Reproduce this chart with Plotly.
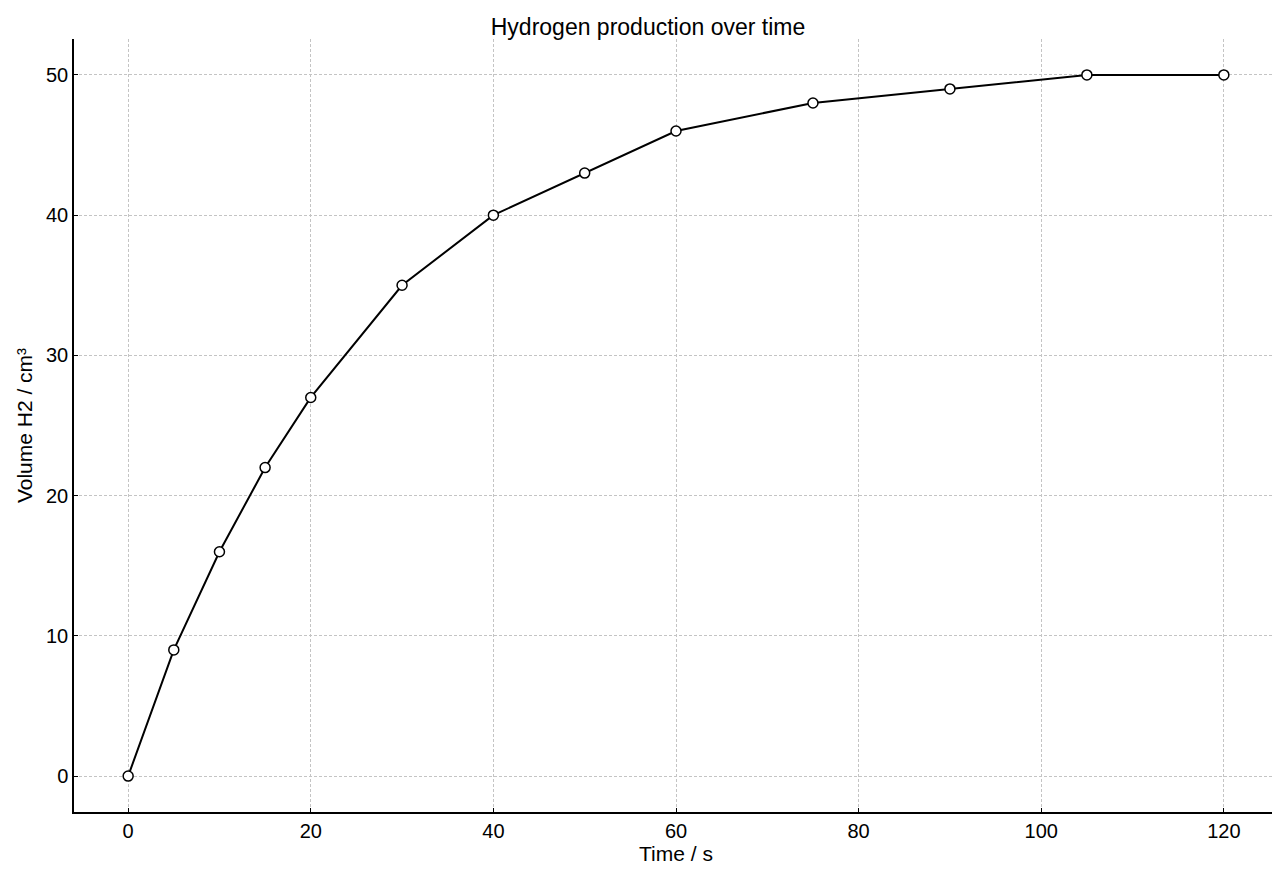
import plotly.graph_objects as go

time_s = [0, 5, 10, 15, 20, 30, 40, 50, 60, 75, 90, 105, 120]
volume_h2 = [0, 9, 16, 22, 27, 35, 40, 43, 46, 48, 49, 50, 50]

fig = go.Figure()
fig.add_trace(go.Scatter(
    x=time_s, y=volume_h2, mode="lines+markers",
    line=dict(color="black", width=2),
    marker=dict(size=10, color="white", line=dict(color="black", width=1.5)),
    showlegend=False,
))

axis_common = dict(
    showline=True, linecolor="black", linewidth=1.5, mirror=False,
    ticks="inside", ticklen=4, tickcolor="black",
    showgrid=True, gridcolor="#c4c4c4", griddash="3px,2px", gridwidth=1,
    zeroline=False, tickfont=dict(size=20, color="black"),
    title_font=dict(size=21, color="black"),
)

fig.update_layout(
    width=1280, height=880,
    margin=dict(l=66, r=10, t=31, b=76),
    paper_bgcolor="white", plot_bgcolor="white",
    font=dict(family="Liberation Sans, Arial, sans-serif", color="black"),
    title=dict(text="Hydrogen production over time", x=0.5, xanchor="center",
               y=0.978, yanchor="middle", font=dict(size=23, color="black")),
    xaxis=dict(range=[-5.93, 125.93], tickvals=[0, 20, 40, 60, 80, 100, 120],
               title=dict(text="Time / s", standoff=6), **axis_common),
    yaxis=dict(range=[-2.56, 52.56], tickvals=[0, 10, 20, 30, 40, 50],
               title=dict(text="Volume H2 / cm³", standoff=8), **axis_common),
)

fig.write_html("out.html")
